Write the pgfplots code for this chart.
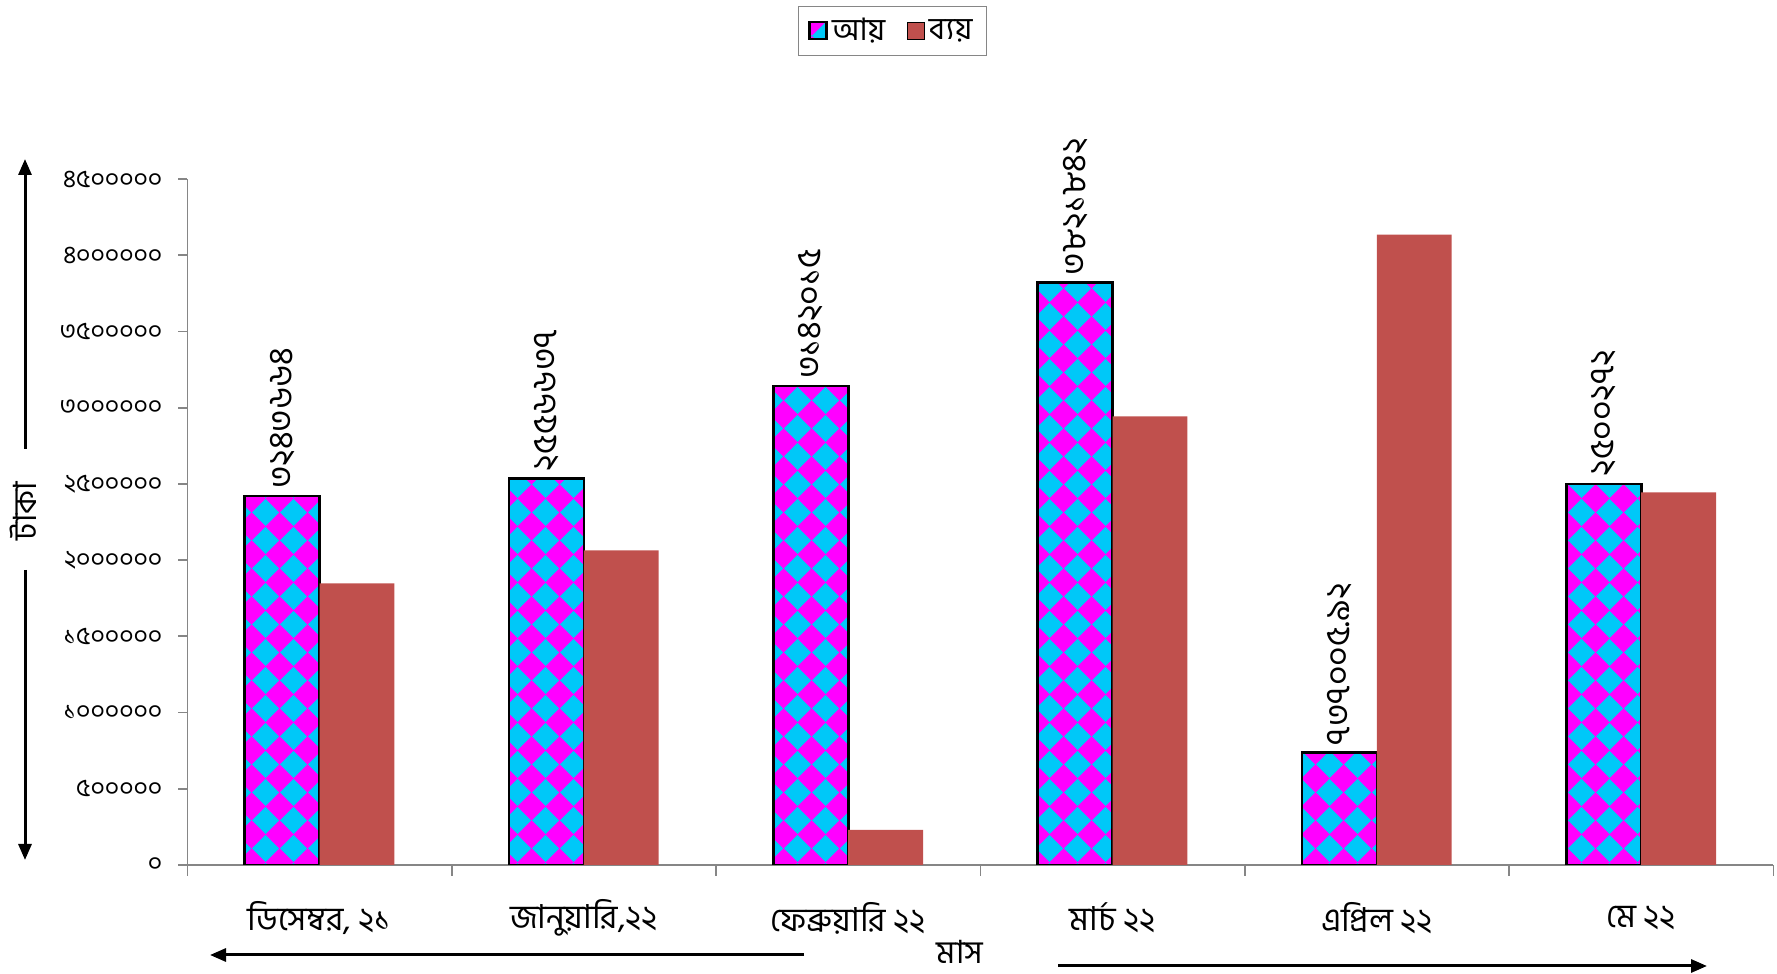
\documentclass[border=0pt]{standalone}
\usepackage{fontspec}
\setmainfont[Script=Bengali]{Hind Siliguri}
\usepackage{pgfplots}
\pgfplotsset{compat=1.18}
\usetikzlibrary{patterns,arrows.meta}

\definecolor{aymag}{HTML}{FF00FF}
\definecolor{aycyan}{HTML}{00C8F8}
\definecolor{byred}{HTML}{C0504D}
\definecolor{axgray}{HTML}{868686}

% cyan diamonds on a magenta fill
\pgfdeclarepatternformonly{diamondcheck}{\pgfqpoint{0pt}{0pt}}{\pgfqpoint{14pt}{14pt}}{\pgfqpoint{14pt}{14pt}}{
  \pgfpathmoveto{\pgfqpoint{7pt}{0pt}}
  \pgfpathlineto{\pgfqpoint{14pt}{7pt}}
  \pgfpathlineto{\pgfqpoint{7pt}{14pt}}
  \pgfpathlineto{\pgfqpoint{0pt}{7pt}}
  \pgfpathclose
  \pgfusepath{fill}
}

\begin{document}
\begin{tikzpicture}
\begin{axis}[
  at={(93.7pt,54.5pt)}, anchor=south west,
  scale only axis, width=793pt, height=343pt,
  ybar=0pt, bar width=0.283,
  xmin=-0.5, xmax=5.5, ymin=0, ymax=4500000,
  axis lines*=left,
  axis line style={axgray, line width=0.9pt},
  tick style={axgray, line width=0.9pt},
  tick align=outside,
  major tick length=4.5pt, minor tick length=5.5pt,
  xtick={0,...,5},
  xticklabels={{ডিসেম্বর, ২১}, {জানুয়ারি,২২}, ফেব্রুয়ারি ২২, মার্চ ২২, এপ্রিল ২২, মে ২২},
  major x tick style={draw=none},
  minor xtick={-0.5,0.5,...,5.5},
  xticklabel style={anchor=center, yshift=-22pt, font=\fontsize{16.5}{19}\selectfont},
  ytick={0,500000,...,4500000},
  yticklabels={০,৫০০০০০,১০০০০০০,১৫০০০০০,২০০০০০০,২৫০০০০০,৩০০০০০০,৩৫০০০০০,৪০০০০০০,৪৫০০০০০},
  yticklabel style={anchor=east, xshift=-4.5pt, font=\fontsize{12.5}{14}\selectfont},
  scaled y ticks=false,
  legend columns=2,
  legend style={at={(0.4445,1.2157)}, anchor=center, draw=axgray,
    font=\fontsize{15.5}{17}\selectfont, inner xsep=5pt, inner ysep=4pt,
    /tikz/every even column/.append style={column sep=9pt}},
  legend image code/.code={\draw[#1] (0pt,-4pt) rectangle (8.5pt,4.5pt);},
]
\addplot[fill=aymag, draw=black, line width=1.3pt,
  postaction={pattern=diamondcheck, pattern color=aycyan},
  nodes near coords, point meta=explicit symbolic,
  nodes near coords style={rotate=90, anchor=west, black,
    font=\fontsize{17}{19}\selectfont, inner sep=3pt}]
  coordinates {
    (0,2421000) [৩২৪৩৬৬৪]
    (1,2536000) [২৫৫৬৬৩৭]
    (2,3142015) [৩১৪২০১৫]
    (3,3821842) [৩৮২১৮৪২]
    (4,737005.92) [৭৩৭০০৫.৯২]
    (5,2500272) [২৫০০২৭২]
  };
\addplot[fill=byred, draw=none]
  coordinates {
    (0,1848000)
    (1,2064000)
    (2,231000)
    (3,2943000)
    (4,4135000)
    (5,2444000)
  };
\legend{আয়, ব্যয়}
\end{axis}
% axis titles with their arrows
\node[font=\fontsize{16}{18}\selectfont, inner sep=0pt] at (480pt,11pt) {মাস};
\node[rotate=90, font=\fontsize{16}{18}\selectfont] at (11.5pt,231.5pt) {টাকা};
\draw[line width=1.5pt, -{Triangle[length=8pt,width=6.5pt]}] (402pt,9.5pt) -- (105pt,9.5pt);
\draw[line width=1.5pt, -{Triangle[length=8pt,width=6.5pt]}] (529pt,4pt) -- (853.5pt,4pt);
\draw[line width=1.5pt, -{Triangle[length=8pt,width=6.5pt]}] (12.5pt,262.5pt) -- (12.5pt,407.5pt);
\draw[line width=1.5pt, -{Triangle[length=8pt,width=6.5pt]}] (12.5pt,202pt) -- (12.5pt,57pt);
\pgfresetboundingbox
\path[use as bounding box] (0,0) rectangle (888.5pt,487pt);
\end{tikzpicture}
\end{document}
